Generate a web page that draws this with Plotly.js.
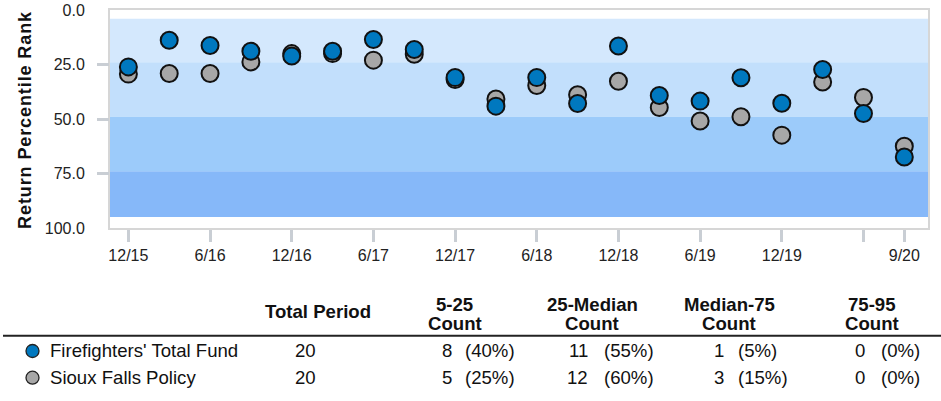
<!DOCTYPE html>
<html>
<head>
<meta charset="utf-8">
<script src="https://cdn.plot.ly/plotly-3.0.1.min.js"></script>
<style>
  html, body { margin: 0; padding: 0; background: #fff; }
  #chart { width: 941px; height: 401px; }
  .annotation[data-index="0"] text { letter-spacing: 0.9px; }
</style>
</head>
<body>
<div id="chart"></div>
<script>
// ---- data ----
const quarters = ['12/15','3/16','6/16','9/16','12/16','3/17','6/17','9/17','12/17','3/18',
                  '6/18','9/18','12/18','3/19','6/19','9/19','12/19','3/20','6/20','9/20'];
const firefighters = [26.1, 13.9, 16.3, 18.9, 21.1, 18.9, 13.5, 18.1, 31.0, 44.1,
                      31.0, 42.9, 16.5, 39.2, 41.8, 31.1, 42.8, 27.3, 47.5, 67.4];
const siouxFalls   = [29.4, 29.1, 29.1, 23.8, 20.0, 20.0, 23.0, 20.3, 31.9, 40.8,
                      34.6, 38.9, 32.7, 44.7, 50.9, 49.0, 57.4, 33.0, 40.1, 62.5];
const xTickVals  = ['12/15','6/16','12/16','6/17','12/17','6/18','12/18','6/19','12/19','6/20','9/20'];
const xTickText  = ['12/15','6/16','12/16','6/17','12/17','6/18','12/18','6/19','12/19','','9/20'];
const yTickVals  = [0, 25, 50, 75, 100];
const bandEdges  = [4, 24, 49, 74, 95];
const seriesNames = ["Firefighters' Total Fund", 'Sioux Falls Policy'];
const tableHeaders = [['Total Period'], ['5-25','Count'], ['25-Median','Count'], ['Median-75','Count'], ['75-95','Count']];
const totalPeriod = [20, 20];
const counts = [[8, 11, 1, 0], [5, 12, 3, 0]];
const percents = [['(40%)','(55%)','(5%)','(0%)'], ['(25%)','(60%)','(15%)','(0%)']];

// ---- styles / geometry ----
const blue = '#0078bf', gray = '#a7a7a7';
const bandColors = ['#d4e8fd', '#c2dffc', '#9ccbfa', '#86b8f9'];
const L = 110, T = 10, W = 818, H = 218;
const px = x => (x - L) / W;
const py = y => (T + H - y) / H;
const font = 'Liberation Sans, Arial, sans-serif';
const tfs = 18.6;

const traces = [
  { x: quarters, y: siouxFalls, type: 'scatter', mode: 'markers', name: seriesNames[1],
    marker: { size: 17, color: gray, line: { color: '#111', width: 2 } }, cliponaxis: false },
  { x: quarters, y: firefighters, type: 'scatter', mode: 'markers', name: seriesNames[0],
    marker: { size: 17, color: blue, line: { color: '#111', width: 2 } }, cliponaxis: false },
  { x: [quarters[0]], y: [50], yaxis: 'y2', type: 'scatter', mode: 'markers',
    marker: { opacity: 0 }, hoverinfo: 'skip', showlegend: false }
];

const shapes = [];
for (let i = 0; i < bandColors.length; i++) {
  shapes.push({ type: 'rect', xref: 'paper', yref: 'y', x0: 0, x1: 1,
    y0: bandEdges[i], y1: bandEdges[i + 1], fillcolor: bandColors[i],
    line: { width: 0 }, layer: 'below' });
}
shapes.push({ type: 'line', xref: 'paper', yref: 'paper', x0: px(3), x1: px(941),
  y0: py(335.7), y1: py(335.7), line: { color: '#222', width: 2 } });
const rowY = [351, 377.7];
const rowColors = [blue, gray];
rowY.forEach((y, i) => {
  shapes.push({ type: 'circle', xref: 'paper', yref: 'paper', xsizemode: 'pixel', ysizemode: 'pixel',
    xanchor: px(32.5), yanchor: py(y), x0: -6.5, x1: 6.5, y0: -6.5, y1: 6.5,
    fillcolor: rowColors[i], line: { color: '#222', width: 1.3 } });
});

const ann = [];
ann.push({ xref: 'paper', yref: 'paper', x: px(25), y: py(120), text: '<b>Return Percentile Rank</b>',
  textangle: -90, showarrow: false, xanchor: 'center', yanchor: 'middle',
  font: { family: font, size: 18, color: '#111' }, borderpad: 0, borderwidth: 0 });

function addText(text, x, y, xanchor, bold) {
  ann.push({ xref: 'paper', yref: 'paper', x: px(x), y: py(y), text: bold ? '<b>' + text + '</b>' : text,
    showarrow: false, xanchor: xanchor, yanchor: 'middle', borderpad: 0, borderwidth: 0,
    font: { family: font, size: tfs, color: '#111' } });
}
const headerX = [318, 454.5, 592, 729, 871.5];
tableHeaders.forEach((h, i) => {
  if (h.length === 1) addText(h[0], headerX[i], 311.7, 'center', true);
  else { addText(h[0], headerX[i], 304, 'center', true); addText(h[1], headerX[i], 323, 'center', true); }
});
const countRight = [451.7, 588.3, 724, 865];
const pctLeft = [465, 603.5, 738.3, 881];
seriesNames.forEach((name, r) => {
  addText(name, 50, rowY[r], 'left', false);
  addText(String(totalPeriod[r]), 295, rowY[r], 'left', false);
  counts[r].forEach((c, k) => {
    addText(String(c), countRight[k], rowY[r], 'right', false);
    addText(percents[r][k], pctLeft[k], rowY[r], 'left', false);
  });
});

const layout = {
  width: 941, height: 401,
  margin: { l: L, r: 941 - L - W, t: T, b: 401 - T - H, pad: 0 },
  paper_bgcolor: '#fff', plot_bgcolor: '#fff',
  showlegend: false,
  font: { family: font, color: '#222' },
  xaxis: {
    type: 'category', categoryorder: 'array', categoryarray: quarters,
    range: [-0.45, 19.58], tickmode: 'array', tickvals: xTickVals, ticktext: xTickText,
    ticks: 'outside', ticklen: 12, tickwidth: 3, tickcolor: '#c9ced4',
    showline: true, mirror: true, linecolor: '#d6d6d6', linewidth: 2,
    showgrid: false, zeroline: false, tickfont: { family: font, size: 16, color: '#222' }
  },
  yaxis: {
    range: [100, 0], tickmode: 'array', tickvals: yTickVals, tickformat: '.1f',
    ticks: 'outside', ticklen: 20, tickwidth: 3, tickcolor: 'rgba(0,0,0,0)',
    showline: true, mirror: true, linecolor: '#d6d6d6', linewidth: 2,
    showgrid: false, zeroline: false, tickfont: { family: font, size: 16, color: '#222' }
  },
  yaxis2: {
    overlaying: 'y', side: 'left', range: [100, 0], tickmode: 'array', tickvals: [25, 50, 75],
    ticks: 'outside', ticklen: 12, tickwidth: 3, tickcolor: '#c9ced4',
    showticklabels: false, showline: false, showgrid: false, zeroline: false
  },
  shapes: shapes,
  annotations: ann
};

Plotly.newPlot('chart', traces, layout, { staticPlot: true, displayModeBar: false });
</script>
</body>
</html>
